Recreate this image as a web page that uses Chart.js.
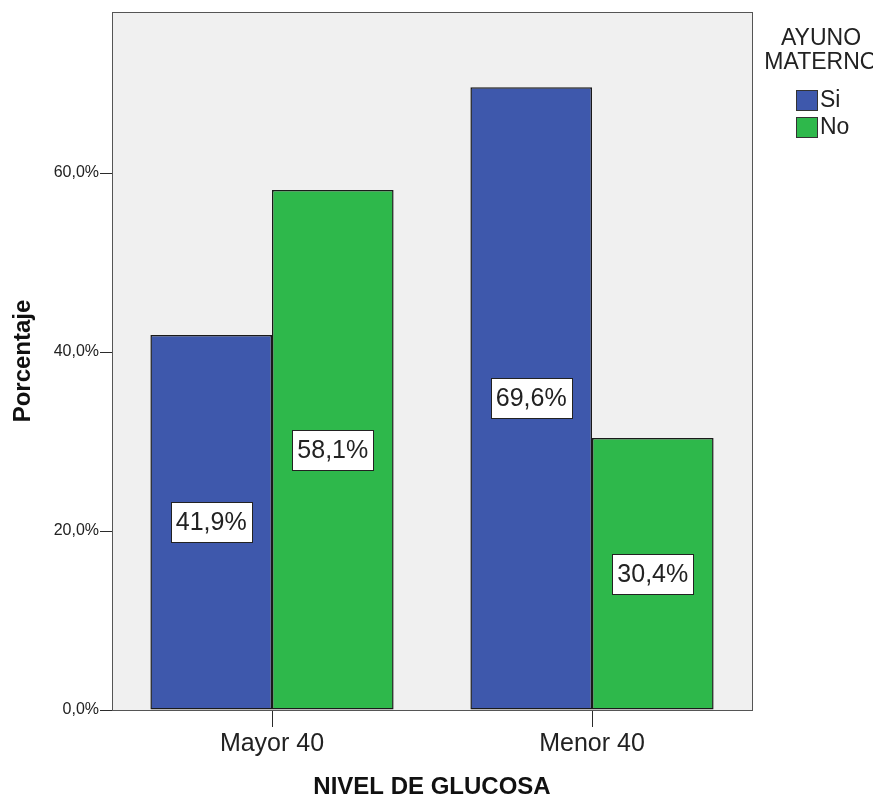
<!DOCTYPE html>
<html>
<head>
<meta charset="utf-8">
<script src="https://cdn.jsdelivr.net/npm/chart.js@4.4.0/dist/chart.umd.min.js"></script>
<style>
    html, body { margin: 0; padding: 0; background: #fff; }
    #wrap { width: 880px; height: 796px; }
</style>
</head>
<body>
<div id="wrap"><canvas id="chart" width="880" height="796"></canvas></div>
<script>
// Data
const categories = ['Mayor 40', 'Menor 40'];
const siValues = [41.9, 69.6];
const noValues = [58.1, 30.4];
const yTickValues = [0, 20, 40, 60];
const seriesNames = ['Si', 'No'];
const legendTitle = ['AYUNO', 'MATERNO'];
const xTitle = 'NIVEL DE GLUCOSA';
const yTitle = 'Porcentaje';

const FONT = "'Liberation Sans', Arial, sans-serif";
const AXIS = '#2b2b2b';

function pct(v) {
    return v.toFixed(1).replace('.', ',') + '%';
}

// plot background + frame, titles, legend, value boxes
const decorPlugin = {
    id: 'decor',
    beforeDatasetsDraw(chart) {
        const { ctx, chartArea: a } = chart;
        ctx.save();
        ctx.fillStyle = '#f0f0f0';
        ctx.fillRect(a.left, a.top, a.right - a.left, a.bottom - a.top);
        ctx.restore();
    },
    afterDatasetsDraw(chart) {
        const { ctx, chartArea: a } = chart;
        ctx.save();
        ctx.strokeStyle = '#555';
        ctx.lineWidth = 1;
        ctx.strokeRect(a.left + 0.5, a.top + 0.5, a.right - a.left, a.bottom - a.top);

        // value labels in white boxes, centered on bar
        ctx.font = '25px ' + FONT;
        ctx.textAlign = 'center';
        ctx.textBaseline = 'middle';
        chart.data.datasets.forEach((ds, di) => {
            chart.getDatasetMeta(di).data.forEach((bar, i) => {
                const txt = pct(ds.data[i]);
                const cx = bar.x;
                const cy = (bar.y + bar.base) / 2;
                const w = ctx.measureText(txt).width + 10;
                const h = 40;
                ctx.fillStyle = '#fff';
                ctx.fillRect(Math.round(cx - w / 2), Math.round(cy - h / 2), Math.round(w), h);
                ctx.strokeStyle = '#222';
                ctx.strokeRect(Math.round(cx - w / 2) + 0.5, Math.round(cy - h / 2) + 0.5, Math.round(w), h);
                ctx.fillStyle = '#222';
                ctx.fillText(txt, cx, cy + 1);
            });
        });

        // axis titles
        ctx.fillStyle = '#111';
        ctx.font = 'bold 24px ' + FONT;
        ctx.fillText(xTitle, (a.left + a.right) / 2, 787);
        ctx.save();
        ctx.translate(23, (a.top + a.bottom) / 2);
        ctx.rotate(-Math.PI / 2);
        ctx.fillText(yTitle, 0, 0);
        ctx.restore();

        // legend (title is cut at the right edge, as in the original)
        ctx.save();
        ctx.beginPath();
        ctx.rect(a.right + 1, 0, 872 - a.right, 796);
        ctx.clip();
        ctx.font = '23px ' + FONT;
        ctx.fillStyle = '#222';
        ctx.fillText(legendTitle[0], 821, 39);
        ctx.fillText(legendTitle[1], 821, 63);
        ctx.restore();
        ctx.textAlign = 'left';
        chart.data.datasets.forEach((ds, di) => {
            const y = 90 + di * 27;
            ctx.fillStyle = ds.backgroundColor;
            ctx.fillRect(796, y, 21, 20);
            ctx.strokeStyle = '#333';
            ctx.strokeRect(796.5, y + 0.5, 21, 20);
            ctx.fillStyle = '#222';
            ctx.font = '23px ' + FONT;
            ctx.fillText(ds.label, 820, y + 11);
        });
        ctx.restore();
    }
};

new Chart(document.getElementById('chart'), {
    type: 'bar',
    data: {
        labels: categories,
        datasets: [
            {
                label: seriesNames[0],
                data: siValues,
                backgroundColor: '#3e58ac',
                borderColor: '#1a1a1a',
                borderWidth: 1.5,
                borderSkipped: false
            },
            {
                label: seriesNames[1],
                data: noValues,
                backgroundColor: '#2eb84b',
                borderColor: '#1a1a1a',
                borderWidth: 1.5,
                borderSkipped: false
            }
        ]
    },
    options: {
        responsive: false,
        animation: false,
        layout: { padding: { top: 12, right: 128, left: 0, bottom: 0 } },
        datasets: {
            bar: { categoryPercentage: 0.76, barPercentage: 1.0 }
        },
        plugins: {
            legend: { display: false },
            tooltip: { enabled: false }
        },
        scales: {
            x: {
                afterFit: s => { s.height = 86; },
                grid: {
                    offset: false,
                    drawOnChartArea: false,
                    tickLength: 17,
                    color: AXIS
                },
                border: { display: true, color: AXIS },
                ticks: {
                    padding: 2,
                    color: '#222',
                    font: { family: FONT, size: 25 }
                }
            },
            y: {
                min: 0,
                max: 78,
                afterFit: s => { s.width = 112; },
                afterBuildTicks: s => { s.ticks = yTickValues.map(v => ({ value: v })); },
                grid: {
                    drawOnChartArea: false,
                    tickLength: 12,
                    color: AXIS
                },
                border: { display: true, color: AXIS },
                ticks: {
                    padding: 1,
                    color: '#222',
                    font: { family: FONT, size: 16 },
                    callback: v => pct(v)
                }
            }
        }
    },
    plugins: [decorPlugin]
});
</script>
</body>
</html>
